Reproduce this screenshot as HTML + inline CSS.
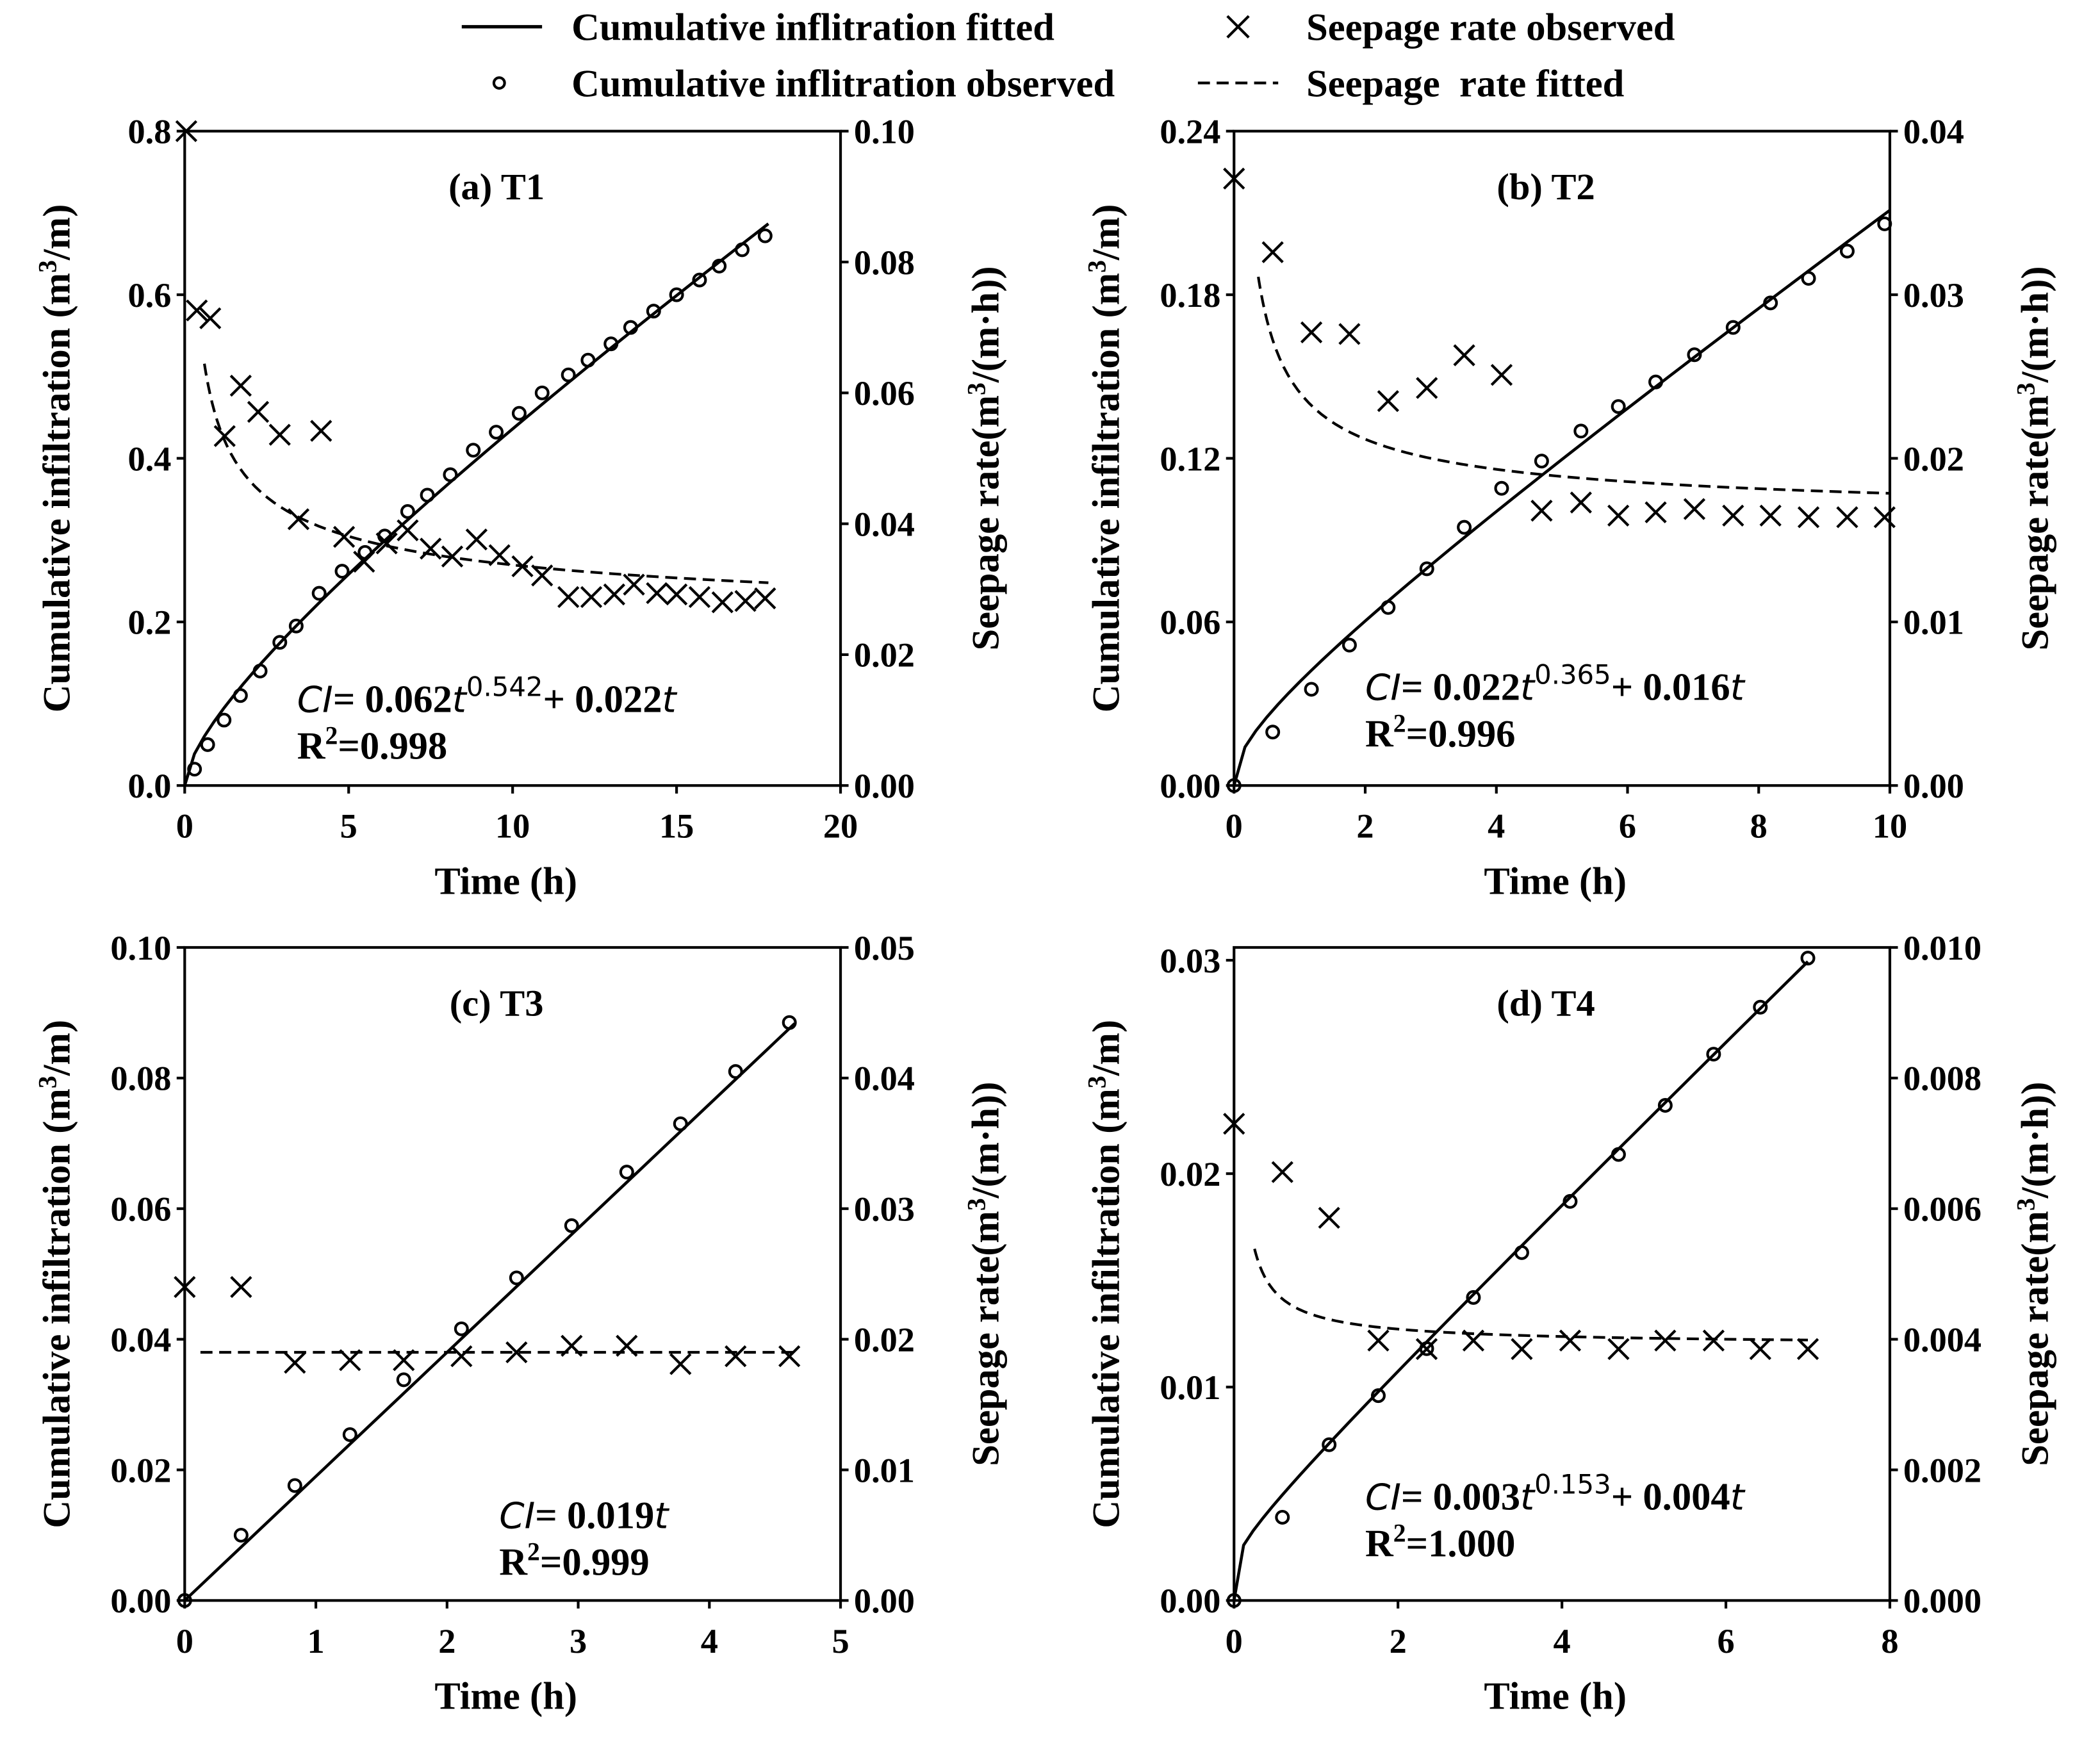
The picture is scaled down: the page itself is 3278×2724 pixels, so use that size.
<!DOCTYPE html>
<html><head><meta charset="utf-8">
<style>
html,body{margin:0;padding:0;background:#fff;}
svg{display:block;}
text{font-family:"Liberation Serif",serif;font-weight:bold;fill:#000;}
</style></head>
<body>
<svg id="chart" width="3278" height="2724" viewBox="0 0 1569 1304" preserveAspectRatio="none" xmlns="http://www.w3.org/2000/svg">
<g id="legend">
  <line x1="345" y1="20" x2="405" y2="20" stroke="#000" stroke-width="2.5"/>
  <text x="427" y="30" font-size="29">Cumulative inflitration fitted</text>
  <circle cx="373" cy="62" r="4" fill="none" stroke="#000" stroke-width="2"/>
  <text x="427" y="72" font-size="29">Cumulative inflitration observed</text>
  <path d="M917 12 L933 28 M933 12 L917 28" stroke="#000" stroke-width="2"/>
  <text x="976" y="30" font-size="29">Seepage rate observed</text>
  <line x1="895" y1="62" x2="955" y2="62" stroke="#000" stroke-width="2" stroke-dasharray="9,5"/>
  <text x="976" y="72" font-size="29" xml:space="preserve">Seepage  rate fitted</text>
</g>
</svg>
<script>
// ---- Panel (a) T1 ----
const aT = [0.3,0.7,1.2,1.7,2.3,2.9,3.4,4.1,4.8,5.5,6.1,6.8,7.4,8.1,8.8,9.5,10.2,10.9,11.7,12.3,13.0,13.6,14.3,15.0,15.7,16.3,17.0,17.7];
const aCI = [0.02,0.05,0.08,0.11,0.14,0.175,0.195,0.235,0.262,0.285,0.305,0.335,0.355,0.38,0.41,0.432,0.455,0.48,0.502,0.52,0.54,0.56,0.58,0.6,0.618,0.635,0.655,0.672];
const aST = [0.05,0.37,0.78,1.22,1.71,2.24,2.9,3.47,4.16,4.86,5.47,6.16,6.8,7.5,8.16,8.9,9.6,10.3,10.9,11.7,12.4,13.1,13.7,14.4,15.0,15.7,16.4,17.1,17.7];
const aSR = [0.1,0.0726,0.0714,0.0534,0.0611,0.0571,0.0536,0.0407,0.0542,0.038,0.0342,0.037,0.039,0.0362,0.035,0.0376,0.0352,0.0335,0.0321,0.0288,0.0288,0.0292,0.0307,0.0294,0.0292,0.0288,0.028,0.0282,0.0286];
const aFit = [0.062,0.542,0.022];
const aSFit = [0.062,0.542,0.022];
// ---- Panel (b) T2 ----
const bT = [0,0.59,1.18,1.76,2.35,2.94,3.51,4.08,4.69,5.29,5.86,6.43,7.02,7.61,8.18,8.76,9.35,9.92];
const bCI = [0,0.0196,0.0353,0.0515,0.0653,0.0795,0.0947,0.109,0.119,0.130,0.139,0.148,0.158,0.168,0.177,0.186,0.196,0.206];
const bST = [0,0.59,1.18,1.76,2.35,2.94,3.51,4.08,4.69,5.29,5.86,6.43,7.02,7.61,8.18,8.76,9.35,9.92];
const bSR = [0.0371,0.0326,0.0277,0.0276,0.0235,0.0243,0.0263,0.0251,0.0168,0.0173,0.0165,0.0167,0.0169,0.0165,0.0165,0.0164,0.0164,0.0164];
const bFit = [0.022,0.365,0.016];
const bSFit = [0.022,0.365,0.016];
// ---- Panel (c) T3 ----
const cT = [0,0.43,0.84,1.26,1.67,2.11,2.53,2.95,3.37,3.78,4.2,4.61];
const cCI = [0,0.010,0.0176,0.0254,0.0338,0.0416,0.0494,0.0574,0.0656,0.073,0.081,0.0885];
const cST = [0,0.43,0.84,1.26,1.67,2.11,2.53,2.95,3.37,3.78,4.2,4.61];
const cSR = [0.024,0.024,0.0182,0.0184,0.0184,0.0187,0.019,0.0195,0.0195,0.0181,0.0187,0.0187];
const cFit = [0,1,0.019];
const cSFit = [0,1,0.019];
// ---- Panel (d) T4 ----
const dT = [0,0.59,1.16,1.76,2.35,2.92,3.51,4.1,4.69,5.26,5.85,6.42,7.0];
const dCI = [0,0.0039,0.0073,0.0096,0.0118,0.0142,0.0163,0.0187,0.0209,0.0232,0.0256,0.0278,0.0301];
const dST = [0,0.59,1.16,1.76,2.35,2.92,3.51,4.1,4.69,5.26,5.85,6.42,7.0];
const dSR = [0.0073,0.00656,0.00586,0.00398,0.00385,0.00398,0.00385,0.00398,0.00385,0.00398,0.00398,0.00385,0.00385];
const dFit = [0.003,0.153,0.0037];
const dSFit = [0.003,0.153,0.0039];

const xTicksA=[0,5,10,15,20], yTicksA=[0,0.2,0.4,0.6,0.8], rTicksA=[0,0.02,0.04,0.06,0.08,0.1];
const xTicksB=[0,2,4,6,8,10], yTicksB=[0,0.06,0.12,0.18,0.24], rTicksB=[0,0.01,0.02,0.03,0.04];
const xTicksC=[0,1,2,3,4,5], yTicksC=[0,0.02,0.04,0.06,0.08,0.1], rTicksC=[0,0.01,0.02,0.03,0.04,0.05];
const xTicksD=[0,2,4,6,8], yTicksD=[0,0.01,0.02,0.03], rTicksD=[0,0.002,0.004,0.006,0.008,0.01];

const NS="http://www.w3.org/2000/svg";
const svg=document.getElementById('chart');
function mk(tag,attrs,parent){const e=document.createElementNS(NS,tag);for(const k in attrs)e.setAttribute(k,attrs[k]);parent.appendChild(e);return e;}

const panels=[
 {id:'a',label:'(a) T1',x0:138,x1:628,y0:587,y1:98,xmax:20,ymax:0.8,rmax:0.1,t:aT,ci:aCI,st:aST,sr:aSR,fit:aFit,sfit:aSFit,xt:xTicksA,yt:yTicksA,rt:rTicksA,yfmt:1,rfmt:2,xfmt:0,tend:17.8,sstart:0.6,eq:['0.062','0.542','0.022'],r2:'0.998',eqx:222,eqy:532},
 {id:'b',label:'(b) T2',x0:922,x1:1412,y0:587,y1:98,xmax:10,ymax:0.24,rmax:0.04,t:bT,ci:bCI,st:bST,sr:bSR,fit:bFit,sfit:bSFit,xt:xTicksB,yt:yTicksB,rt:rTicksB,yfmt:2,rfmt:2,xfmt:0,tend:10,sstart:0.37,eq:['0.022','0.365','0.016'],r2:'0.996',eqx:1020,eqy:523},
 {id:'c',label:'(c) T3',x0:138,x1:628,y0:1196,y1:708,xmax:5,ymax:0.1,rmax:0.05,t:cT,ci:cCI,st:cST,sr:cSR,fit:cFit,sfit:cSFit,xt:xTicksC,yt:yTicksC,rt:rTicksC,yfmt:2,rfmt:2,xfmt:0,tend:4.65,sstart:0.12,send:4.65,eq:null,r2:'0.999',eqx:373,eqy:1142},
 {id:'d',label:'(d) T4',x0:922,x1:1412,y0:1196,y1:708,xmax:8,ymax:0.0306,rmax:0.01,t:dT,ci:dCI,st:dST,sr:dSR,fit:dFit,sfit:dSFit,xt:xTicksD,yt:yTicksD,rt:rTicksD,yfmt:2,rfmt:3,xfmt:0,tend:7,sstart:0.25,eq:['0.003','0.153','0.004'],r2:'1.000',eqx:1020,eqy:1128}
];

panels.forEach(p=>{
 const g=mk('g',{},svg);
 
 
 const X=v=>p.x0+(p.x1-p.x0)*v/p.xmax;
 const Y=v=>p.y0-(p.y0-p.y1)*v/p.ymax;
 const R=v=>p.y0-(p.y0-p.y1)*v/p.rmax;
 const frame=mk('rect',{x:p.x0,y:p.y1,width:p.x1-p.x0,height:p.y0-p.y1,fill:'none',stroke:'#000','stroke-width':2},g);
 
 
 p.xt.forEach(v=>{
  const l=mk('line',{x1:X(v),x2:X(v),y1:p.y0,y2:p.y0+6,stroke:'#000','stroke-width':2},g);
  
  
  const t=mk('text',{x:X(v),y:p.y0+39,'font-size':26,'text-anchor':'middle'},g);t.textContent=v.toFixed(p.xfmt);
  
  
 });
 p.yt.forEach(v=>{
  const l=mk('line',{x1:p.x0-6,x2:p.x0,y1:Y(v),y2:Y(v),stroke:'#000','stroke-width':2},g);
  
  
  const t=mk('text',{x:p.x0-10,y:Y(v)+9,'font-size':26,'text-anchor':'end'},g);t.textContent=v.toFixed(p.yfmt);
  
  
 });
 p.rt.forEach(v=>{
  const l=mk('line',{x1:p.x1,x2:p.x1+6,y1:R(v),y2:R(v),stroke:'#000','stroke-width':2},g);
  
  
  const t=mk('text',{x:p.x1+10,y:R(v)+9,'font-size':26,'text-anchor':'start'},g);t.textContent=v.toFixed(p.rfmt);
  
  
 });
 const xl=mk('text',{x:(p.x0+p.x1)/2-5,y:p.y0+81,'font-size':29,'text-anchor':'middle'},g);xl.textContent='Time (h)';
 
 
 const cy=(p.y0+p.y1)/2;
 const yl=mk('text',{x:0,y:0,'font-size':29,'text-anchor':'middle',transform:`translate(${p.x0-86},${cy}) rotate(-90)`},g);
 yl.innerHTML='Cumulative infiltration (m<tspan dy="-10" font-size="19">3</tspan><tspan dy="10">/m)</tspan>';
 
 
 const rl=mk('text',{x:0,y:0,'font-size':29,'text-anchor':'middle',transform:`translate(${p.x1+118},${cy}) rotate(-90)`},g);
 rl.innerHTML='Seepage rate(m<tspan dy="-10" font-size="19">3</tspan><tspan dy="10">/(m·h))</tspan>';
 
 
 const tl=mk('text',{x:(p.x0+p.x1)/2-12,y:p.y1+51,'font-size':28,'text-anchor':'middle'},g);tl.textContent=p.label;
 
 
 const eq=mk('text',{x:p.eqx,y:p.eqy,'font-size':29},g);
 if(p.eq){
  eq.innerHTML=`<tspan font-style="italic" font-weight="normal" font-family="DejaVu Sans" font-size="27">CI</tspan>= ${p.eq[0]}<tspan font-style="italic" font-weight="normal" font-family="DejaVu Sans" font-size="27">t</tspan><tspan dy="-12" font-size="20" font-weight="normal" font-family="DejaVu Sans">${p.eq[1]}</tspan><tspan dy="12">+ ${p.eq[2]}</tspan><tspan font-style="italic" font-weight="normal" font-family="DejaVu Sans" font-size="27">t</tspan>`;
 } else {
  eq.innerHTML=`<tspan font-style="italic" font-weight="normal" font-family="DejaVu Sans" font-size="27">CI</tspan>= ${p.fit[2]}<tspan font-style="italic" font-weight="normal" font-family="DejaVu Sans" font-size="27">t</tspan>`;
 }
 
 
 const r2=mk('text',{x:p.eqx,y:p.eqy+35,'font-size':29},g);
 r2.innerHTML=`R<tspan dy="-11" font-size="19">2</tspan><tspan dy="11">=${p.r2}</tspan>`;
 
 
 const [a,b,c]=p.fit;
 let d='';const N=60;
 for(let i=0;i<=N;i++){const t=p.tend*i/N;const v=a*Math.pow(t,b)+c*t;d+=(i?'L':'M')+X(t).toFixed(2)+' '+Y(v).toFixed(2)+' ';}
 const cl=mk('path',{d:d,fill:'none',stroke:'#000','stroke-width':2.2},g);
 
 
 const [sa,sb,sc]=p.sfit;
 let d2='';const s0=p.sstart,s1=p.send||p.tend;
 for(let i=0;i<=N;i++){const t=s0+(s1-s0)*Math.pow(i/N,2);const v=sa*sb*Math.pow(t,sb-1)+sc;d2+=(i?'L':'M')+X(t).toFixed(2)+' '+R(v).toFixed(2)+' ';}
 const sl=mk('path',{d:d2,fill:'none',stroke:'#000','stroke-width':2,'stroke-dasharray':'9,5'},g);
 
 
 p.t.forEach((t,i)=>{
  const ci=mk('circle',{cx:X(t),cy:Y(p.ci[i]),r:4.5,fill:'none',stroke:'#000','stroke-width':2},g);
  
  
 });
 p.st.forEach((t,i)=>{
  const x=X(t),y=R(p.sr[i]),s=7.5;
  const cr=mk('path',{d:`M${x-s} ${y-s} L${x+s} ${y+s} M${x+s} ${y-s} L${x-s} ${y+s}`,stroke:'#000','stroke-width':2},g);
  
  
 });
});
</script>
</body></html>
